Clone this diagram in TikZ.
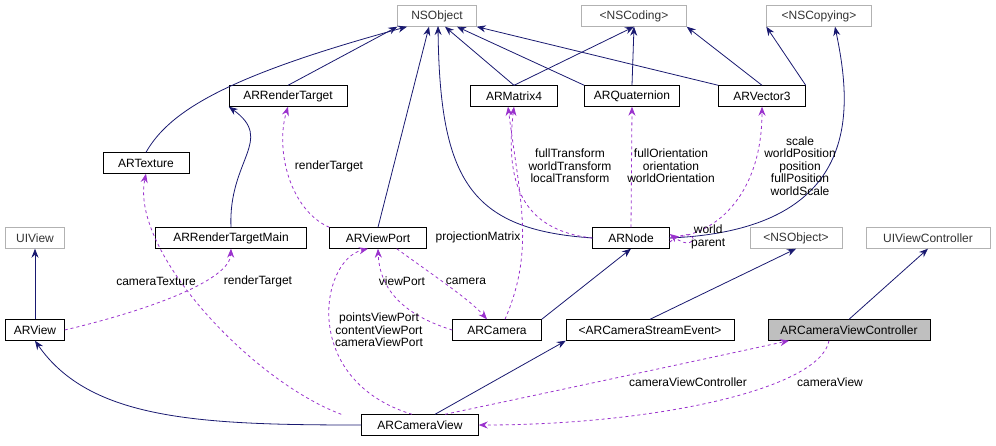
\documentclass[tikz,border=0pt]{standalone}
\usepackage{fontspec}
\setmainfont{Liberation Sans}
\usetikzlibrary{arrows.meta}
\definecolor{pur}{HTML}{9A32CD}
\definecolor{nav}{HTML}{191970}
\begin{document}
\begin{tikzpicture}[x=1pt,y=-1pt,
  font=\fontsize{12}{13}\selectfont,
  box/.style={draw=black,fill=white,minimum height=21pt,inner sep=3pt,inner ysep=0pt},
  ext/.style={box,draw=gray!60,text=black!80},
  inh/.style={draw=nav,line width=0.8pt,-{Stealth[length=9pt,width=7pt]}},
  use/.style={draw=pur,dashed,line width=0.8pt,-{Stealth[length=9pt,width=7pt]}},
  lbl/.style={align=center,font=\fontsize{12}{12.5}\selectfont,inner sep=1pt}]
\useasboundingbox (0,0) rectangle (996,445);
\node[ext,minimum width=79pt] (nso) at (437,16) {NSObject};
\node[ext,minimum width=105pt] (nsc) at (634,16) {<NSCoding>};
\node[ext,minimum width=105pt] (nscp) at (819,16) {<NSCopying>};
\node[box,minimum width=118pt] (rt) at (288,96) {ARRenderTarget};
\node[box,minimum width=87pt] (m4) at (514,96) {ARMatrix4};
\node[box,minimum width=95pt] (q) at (632,96) {ARQuaternion};
\node[box,minimum width=87pt] (v3) at (762,96) {ARVector3};
\node[box,minimum width=86pt] (tex) at (146,163) {ARTexture};
\node[ext,minimum width=59pt] (uiv) at (35,238) {UIView};
\node[box,minimum width=151pt] (rtm) at (231,238) {ARRenderTargetMain};
\node[box,minimum width=97pt] (vp) at (378,238) {ARViewPort};
\node[box,minimum width=77pt] (node) at (631,238) {ARNode};
\node[ext,minimum width=92pt] (nsop) at (796,238) {<NSObject>};
\node[ext,minimum width=124pt] (uivc) at (928,238) {UIViewController};
\node[box,minimum width=59pt] (arv) at (35,330) {ARView};
\node[box,minimum width=89pt] (cam) at (497,330) {ARCamera};
\node[box,minimum width=168pt] (cse) at (650,330) {<ARCameraStreamEvent>};
\node[box,fill=gray!50,minimum width=162pt] (cvc) at (849,330) {ARCameraViewController};
\node[box,minimum width=117pt] (cv) at (420,425) {ARCameraView};
% inheritance
\draw[inh] (rt.north) -- (nso.south west);
\draw[inh] (tex.north) .. controls (170,110) and (230,75) .. ([xshift=-30pt]nso.south);
\draw[inh] (vp.north) -- ([xshift=-8pt]nso.south);
\draw[inh] ([xshift=-38pt]node.center) .. controls (470,230) and (440,180) .. (438,26);
\draw[inh] (m4.north) -- ([xshift=8pt]nso.south);
\draw[inh] (m4.north) -- (nsc.south);
\draw[inh] (q.north west) -- ([xshift=20pt]nso.south);
\draw[inh] (q.north) -- (nsc.south);
\draw[inh] (v3.north west) -- (nso.south east);
\draw[inh] (v3.north) -- (nsc.south east);
\draw[inh] (v3.north east) -- (nscp.south west);
\draw[inh] ([xshift=38pt]node.center) .. controls (870,230) and (850,100) .. ([xshift=16pt]nscp.south);
\draw[inh] (rtm.north) .. controls (228,160) and (275,140) .. (rt.south west);
\draw[inh] (arv.north) -- (uiv.south);
\draw[inh] (cam.north east) -- (node.south);
\draw[inh] (cse.north) -- (nsop.south);
\draw[inh] (cvc.north) -- (uivc.south);
\draw[inh] (cv.west) .. controls (200,425) and (90,420) .. (arv.south);
\draw[inh] ([xshift=15pt]cv.north) -- (cse.south west);
% usage
\draw[use] ([xshift=-20pt]cv.north west) .. controls (250,380) and (130,250) .. (tex.south);
\node[lbl] (l1) at (156,281) {cameraTexture};
\draw[use] (vp.north west) .. controls (290,210) and (275,150) .. (rt.south);
\node[lbl] (l2) at (329,166) {renderTarget};
\draw[use] (arv.east) .. controls (150,310) and (230,280) .. (rtm.south);
\node[lbl] (l3) at (258,281) {renderTarget};
\draw[use] (node.west) .. controls (520,230) and (505,180) .. (m4.south);
\node[lbl] (l4) at (570,166) {fullTransform\\worldTransform\\localTransform};
\draw[use] ([xshift=8pt]cam.north) .. controls (535,250) and (520,200) .. ([xshift=-6pt]m4.south);
\node[lbl] (l5) at (478,237) {projectionMatrix};
\draw[use] (node.north) -- (q.south);
\node[lbl] (l6) at (671,166) {fullOrientation\\orientation\\worldOrientation};
\draw[use] (node.east) .. controls (720,235) and (762,190) .. (v3.south);
\node[lbl] (l7) at (800,166) {scale\\worldPosition\\position\\fullPosition\\worldScale};
\draw[use] ([yshift=-4pt]node.east) .. controls (700,220) and (700,256) .. ([yshift=4pt]node.east);
\node[lbl,anchor=west] (l8) at (690,237) {world\\parent};
\draw[use] (cam.west) .. controls (420,320) and (380,300) .. (vp.south);
\node[lbl] (l9) at (402,281) {viewPort};
\draw[use] ([xshift=-30pt]vp.south east) .. controls (440,280) and (470,300) .. ([xshift=-10pt]cam.north);
\node[lbl] (l10) at (466,281) {camera};
\draw[use] ([xshift=-8pt]cv.north) .. controls (300,380) and (320,260) .. ([xshift=-10pt]vp.south);
\node[lbl] (l11) at (379,330) {pointsViewPort\\contentViewPort\\cameraViewPort};
\draw[use] ([xshift=25pt]cv.north) .. controls (560,390) and (700,360) .. ([xshift=-60pt]cvc.south);
\node[lbl] (l12) at (688,382) {cameraViewController};
\draw[use] ([xshift=-20pt]cvc.south) .. controls (820,390) and (650,425) .. (cv.east);
\node[lbl] (l13) at (830,382) {cameraView};
\end{tikzpicture}
\end{document}
